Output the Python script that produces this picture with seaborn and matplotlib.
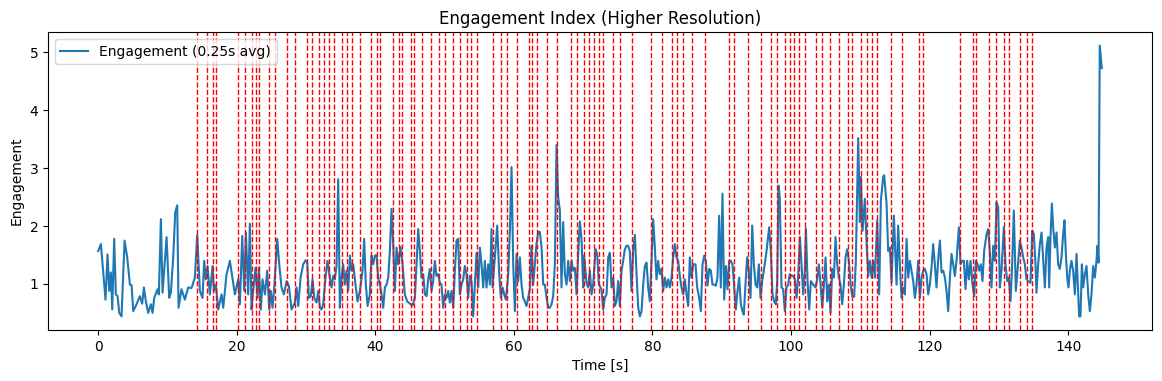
import matplotlib
matplotlib.use("Agg")
import matplotlib.pyplot as plt
import seaborn as sns
import pandas as pd

# ---- data ----
time_s = [
    0.00, 0.39, 1.06, 1.35, 1.59, 1.83, 2.03, 2.31, 2.55, 2.80, 3.04, 3.37, 3.81, 4.19, 4.58, 4.82,
    5.06, 5.54, 6.02, 6.35, 6.60, 6.88, 7.22, 7.61, 7.85, 8.09, 8.57, 8.76, 9.05, 9.29, 9.87, 10.25,
    10.49, 10.83, 11.12, 11.41, 11.60, 12.03, 12.51, 12.99, 13.47, 13.96,
    14.29, 14.68, 15.06, 15.30, 15.54, 15.78, 16.12, 16.51, 16.70, 16.99, 17.32, 17.80, 18.05, 18.53,
    19.01, 19.34, 19.73, 20.21, 20.45, 20.79, 21.08, 21.32, 21.65, 21.89, 22.13, 22.37, 22.71, 23.00,
    23.19, 23.48, 23.72, 24.06, 24.40, 24.68, 24.92, 25.16, 25.41, 25.84, 26.13, 26.46, 26.80, 27.19,
    27.52, 27.91,
    28.39, 28.63, 28.87, 29.21, 29.59, 29.93, 30.17, 30.41, 30.70, 30.94, 31.18, 31.51, 31.76, 32.00,
    32.24, 32.48, 32.81, 33.10, 33.44, 33.68, 33.92, 34.16, 34.40, 34.64, 34.88, 35.12, 35.36, 35.60,
    35.84, 36.08, 36.33, 36.57, 36.81, 37.14, 37.43, 37.77, 38.15, 38.39, 38.63, 38.88, 39.21, 39.45,
    39.69, 39.93, 40.17, 40.41, 40.66, 40.90, 41.14, 41.38, 41.62, 41.86, 42.10, 42.34, 42.58,
    42.82, 43.06, 43.30, 43.64, 43.93, 44.26, 44.60, 44.98, 45.37, 45.71, 45.95, 46.19, 46.43, 46.67,
    46.91, 47.15, 47.39, 47.63, 47.87, 48.11, 48.35, 48.59, 48.83, 49.07, 49.31, 49.55, 49.80, 50.04,
    50.28, 50.52, 50.76, 51.00, 51.24, 51.48, 51.72, 51.96, 52.20, 52.44, 52.68, 52.92, 53.16, 53.40,
    53.64, 53.88, 54.12, 54.37, 54.61, 54.85, 55.09, 55.33, 55.57, 55.81, 56.05, 56.29, 56.53, 56.77,
    56.91, 57.25, 57.59, 57.88, 58.12, 58.36, 58.60, 58.84, 59.18, 59.42, 59.66, 59.90, 60.14, 60.38,
    60.62, 60.86, 61.10, 61.34, 61.58, 61.82, 62.06, 62.30, 62.54, 62.78, 63.02, 63.26, 63.51, 63.75,
    63.99, 64.23, 64.47, 64.71, 64.95, 65.19, 65.43, 65.67, 65.91, 66.15, 66.39, 66.63, 66.87, 67.11,
    67.35, 67.60, 67.84, 68.08, 68.32, 68.56, 68.80, 69.04, 69.28, 69.52, 69.76, 70.00, 70.14, 70.48,
    70.72, 70.96, 71.20, 71.44,
    71.78, 72.02, 72.26, 72.64, 72.88, 73.12, 73.37, 73.61, 73.85, 74.09, 74.33, 74.57, 74.81, 75.05,
    75.29, 75.53, 75.77, 76.01, 76.25, 76.49, 76.73, 76.97, 77.21, 77.46, 77.70, 77.94, 78.18, 78.42,
    78.66, 78.90, 79.14, 79.38, 79.62, 79.86, 80.10, 80.34, 80.58, 80.82, 81.06, 81.30, 81.54, 81.78,
    82.03, 82.27, 82.51, 82.75, 82.99, 83.23, 83.47, 83.71, 83.95, 84.19, 84.43, 84.67, 84.91, 85.15,
    85.39, 85.63, 85.87,
    86.21, 86.45, 86.74, 86.98, 87.22, 87.46, 87.70, 87.94, 88.18, 88.42, 88.66, 88.90, 89.14, 89.38,
    89.62, 89.86, 90.10, 90.35, 90.59, 90.83, 91.07, 91.31, 91.55, 91.79, 92.03, 92.27, 92.51, 92.75,
    92.99, 93.18, 93.42, 93.66, 93.90, 94.15, 94.39, 94.63, 94.87, 95.11, 95.35, 95.59, 95.83, 96.07,
    96.46, 96.84, 97.08, 97.32, 97.56, 97.80, 98.00, 98.19, 98.38, 98.62, 98.86, 99.10, 99.34, 99.58,
    99.82, 100.06, 100.30,
    100.55, 100.79, 101.03, 101.27, 101.51, 101.75, 101.99, 102.14, 102.38, 102.62, 102.86, 103.20,
    103.53, 103.77, 104.01, 104.26, 104.50, 104.74, 104.98, 105.22, 105.46, 105.70, 105.94, 106.18,
    106.42, 106.66, 106.90, 107.14, 107.38, 107.62, 107.86, 108.10, 108.35, 108.59, 108.83, 109.11,
    109.35, 109.69, 109.93, 110.08, 110.32, 110.65, 110.90, 111.14, 111.38, 111.62, 111.86, 112.10,
    112.43, 112.72, 112.96, 113.30, 113.44, 113.78, 114.02, 114.26, 114.50, 114.84,
    115.22, 115.46, 115.70, 115.94, 116.18, 116.42, 116.67, 116.91, 117.15, 117.39, 117.63, 117.87,
    118.11, 118.35, 118.59, 118.83, 119.07, 119.31, 119.55, 119.79, 120.03, 120.27, 120.51, 120.75,
    120.99, 121.24, 121.48, 121.72, 121.96, 122.20, 122.44, 122.68, 122.92, 123.16, 123.40, 123.64,
    123.88, 124.22, 124.46, 124.70, 124.94, 125.18, 125.42, 125.66, 125.90, 126.19, 126.43, 126.67,
    126.91, 127.15, 127.39, 127.63, 127.87, 128.21, 128.45, 128.69, 128.93, 129.17,
    129.41, 129.65, 129.89, 130.13, 130.37, 130.71, 130.95, 131.19, 131.43, 131.67, 131.91, 132.15,
    132.44, 132.68, 133.02, 133.26, 133.50, 133.74, 133.98, 134.22, 134.56, 134.80, 135.04, 135.28,
    135.42, 135.66, 135.91, 136.15, 136.39, 136.63, 136.87, 137.11, 137.25, 137.44, 137.64, 137.83,
    138.07, 138.31, 138.55, 138.79, 139.03, 139.27, 139.46, 139.66, 139.85, 140.04, 140.23, 140.47,
    140.71, 140.96, 141.20, 141.44, 141.58, 141.77, 141.97, 142.16, 142.40, 142.64, 142.88, 143.12,
    143.36, 143.60, 143.84, 144.08, 144.22, 144.38, 144.55, 144.85,
]

engagement = [
    1.57, 1.69, 0.73, 1.51, 0.88, 1.20, 0.56, 1.78, 0.82, 0.79, 0.50, 0.44, 1.75, 1.46, 0.99, 0.98,
    0.53, 0.65, 0.79, 0.66, 0.94, 0.70, 0.50, 0.65, 0.50, 0.76, 0.91, 0.82, 2.12, 0.85, 1.81, 0.76,
    0.85, 1.46, 2.24, 2.36, 0.59, 0.91, 0.73, 0.94, 0.93, 1.11,
    1.85, 0.88, 0.76, 1.40, 1.08, 1.31, 0.82, 1.31, 0.88, 0.99, 0.56, 0.82, 0.59, 1.17,
    1.40, 1.14, 0.82, 1.08, 0.65, 1.83, 0.88, 1.89, 0.82, 2.04, 0.56, 0.88, 1.28, 0.76,
    1.28, 0.56, 1.08, 0.82, 1.23, 0.56, 0.88, 0.59, 0.94, 1.78, 1.34, 0.94, 0.82, 1.05,
    0.97, 0.56,
    0.68, 0.94, 0.62, 1.11, 1.34, 1.41, 1.37, 0.76, 0.79, 1.08, 0.76, 0.68, 0.88, 0.59,
    0.56, 0.65, 1.11, 1.40, 1.11, 0.94, 1.14, 1.08, 1.31, 2.81, 0.59, 1.11, 1.34, 0.99,
    1.23, 0.88, 1.49, 1.23, 1.34, 0.99, 0.70, 0.88, 1.23, 1.78, 0.99, 0.62, 0.82, 1.49,
    1.34, 1.49, 1.50, 1.11, 0.99, 0.82, 0.59, 0.94, 0.99, 1.11, 1.57, 2.30, 1.69,
    0.88, 1.63, 1.34, 1.64, 1.34, 0.82, 0.70, 0.66, 0.63, 0.76, 1.34, 1.95, 1.57, 1.11,
    1.17, 0.82, 0.79, 1.08, 1.26, 0.88, 1.05, 1.40, 1.14, 1.17, 1.02, 0.99, 0.59, 0.82,
    0.76, 0.88, 0.68, 0.88, 0.59, 1.23, 1.75, 1.78, 0.82, 0.99, 1.08, 1.31, 1.17, 0.76,
    1.14, 1.05, 0.44, 0.99, 1.54, 0.94, 1.63, 1.34, 0.94, 1.40, 0.94, 1.34, 0.99, 1.95,
    0.94, 1.46, 2.01, 1.17, 0.76, 0.94, 0.82, 0.73, 1.17, 1.92, 3.02, 1.34, 0.53, 1.52,
    1.05, 1.46, 0.99, 0.76, 0.70, 0.62, 0.76, 0.91, 1.66, 0.99, 1.34, 1.69, 1.90, 1.90,
    1.63, 0.99, 0.99, 0.76, 0.59, 0.59, 0.65, 0.79, 1.34, 3.40, 2.50, 2.27, 0.94, 2.07,
    1.17, 0.99, 1.40, 1.05, 1.40, 1.23, 1.28, 0.82, 1.52, 2.08, 1.78, 0.94, 1.49, 1.02,
    0.94, 1.23, 0.82, 0.99,
    1.60, 1.52, 0.99, 0.91, 0.56, 0.76, 0.82, 1.46, 1.54, 0.94, 1.11, 0.62, 0.70, 1.05,
    0.62, 1.23, 1.40, 1.60, 1.66, 1.66, 1.57, 0.88, 1.57, 1.85, 1.17, 0.59, 0.44, 0.53,
    0.99, 1.31, 1.37, 0.94, 0.70, 1.40, 2.12, 1.63, 1.08, 1.40, 1.17, 1.26, 0.88, 1.11,
    0.94, 1.08, 0.94, 1.11, 1.46, 1.69, 1.46, 1.40, 1.14, 0.94, 0.82, 1.08, 0.82, 0.62,
    1.46, 1.11, 1.34,
    1.34, 0.94, 0.76, 0.53, 1.34, 1.49, 1.40, 0.97, 1.26, 1.23, 0.99, 0.99, 0.97, 1.11,
    2.18, 0.94, 2.56, 0.73, 1.31, 0.91, 1.40, 1.40, 1.34, 0.94, 0.56, 0.88, 1.11, 0.65,
    0.53, 0.47, 0.99, 1.46, 1.23, 0.76, 2.01, 1.34, 0.99, 0.94, 1.34, 0.76, 1.05, 1.23,
    1.57, 1.98, 1.57, 0.82, 0.70, 0.65, 1.05, 2.70, 2.47, 0.94, 0.91, 0.53, 0.94, 0.99,
    1.17, 1.14, 1.14,
    1.08, 0.76, 1.14, 1.81, 1.34, 0.82, 1.23, 1.96, 1.05, 0.56, 1.05, 0.99,
    0.94, 1.08, 1.34, 0.99, 0.59, 0.99, 1.46, 0.70, 0.99, 0.50, 1.26, 1.11,
    1.81, 1.34, 1.11, 0.99, 0.65, 0.99, 1.46, 1.60, 1.40, 0.99, 0.79, 0.78,
    1.40, 3.52, 2.07, 2.85, 1.92, 2.47, 1.69, 1.14, 1.40, 1.11, 1.40, 1.11,
    2.10, 0.82, 2.44, 2.85, 2.88, 2.39, 1.57, 1.63, 1.02, 2.18,
    0.99, 2.01, 1.34, 0.76, 0.94, 0.82, 1.78, 1.11, 1.40, 1.23, 1.05, 0.76,
    0.99, 1.40, 0.76, 1.11, 1.23, 1.26, 1.17, 0.82, 0.99, 1.28, 1.69, 1.34,
    0.94, 1.43, 1.75, 1.20, 1.23, 1.11, 0.88, 0.53, 1.11, 1.52, 1.34, 1.14,
    1.40, 1.98, 1.34, 1.40, 1.40, 0.91, 1.40, 1.08, 1.40, 0.99, 0.79, 1.40,
    1.34, 1.23, 1.34, 1.05, 1.57, 1.86, 1.95, 1.54, 0.94, 1.66,
    1.40, 2.41, 2.33, 0.94, 1.23, 1.98, 1.34, 1.05, 1.11, 0.70, 1.34, 2.27,
    0.88, 1.23, 1.75, 1.63, 1.46, 1.34, 1.08, 1.05, 1.02, 1.92, 1.86, 1.34,
    0.85, 1.34, 1.69, 1.89, 1.40, 0.94, 1.63, 1.81, 0.94, 1.81, 2.39, 1.98,
    1.63, 1.89, 1.34, 1.26, 1.46, 1.86, 2.10, 1.52, 1.11, 0.94, 1.23, 1.40,
    1.23, 0.82, 1.52, 0.82, 0.44, 0.44, 1.34, 0.94, 1.17, 1.31, 0.82, 0.53,
    0.82, 1.31, 1.11, 1.40, 1.66, 1.37, 5.12, 4.73,
]

marker_times = [
    14.29, 15.73, 16.60, 16.99, 20.12, 21.17, 22.14, 22.72, 23.19, 24.63, 25.50, 27.19,
    28.39, 30.16, 30.88, 31.85, 32.62, 33.34, 34.06, 35.21, 35.94, 36.66, 37.77, 39.31,
    40.27, 40.66, 42.49, 43.44, 43.87, 45.09, 45.61, 46.76, 47.97, 49.17, 50.04, 51.15,
    52.20, 53.17, 53.79, 54.70, 56.92, 58.12, 58.94, 60.47, 62.16, 62.55, 63.27, 64.71,
    66.16, 68.22, 69.13, 70.10, 70.86, 71.54, 72.26, 72.88, 74.33, 75.29, 76.98, 79.77,
    81.31, 82.84, 83.47, 84.43, 85.73, 87.56, 91.07, 91.79, 93.81, 95.60, 97.04, 97.91,
    99.11, 99.83, 100.40, 101.12, 101.99, 103.54, 104.40, 105.60, 106.90, 108.15, 108.82,
    110.07, 110.98, 111.70, 112.43, 114.36, 115.95, 118.45, 118.98, 124.36, 126.19, 126.67,
    128.59, 129.55, 130.71, 131.43, 133.02, 134.07, 134.71,
]

series_label = "Engagement (0.25s avg)"

df = pd.DataFrame({"Time": time_s, "Engagement": engagement})

fig, ax = plt.subplots(figsize=(11.62, 3.81), dpi=100)
sns.lineplot(data=df, x="Time", y="Engagement", ax=ax, color="#1f77b4",
             linewidth=1.5, label=series_label, estimator=None, sort=False)

for mt in marker_times:
    ax.axvline(mt, color="red", linestyle="--", linewidth=1)

ax.set_title("Engagement Index (Higher Resolution)")
ax.set_xlabel("Time [s]")
ax.set_ylabel("Engagement")
ax.legend(loc="upper left")

fig.subplots_adjust(left=0.0413, right=0.9914, top=0.916, bottom=0.134)
fig.savefig("out.png", dpi=100)
